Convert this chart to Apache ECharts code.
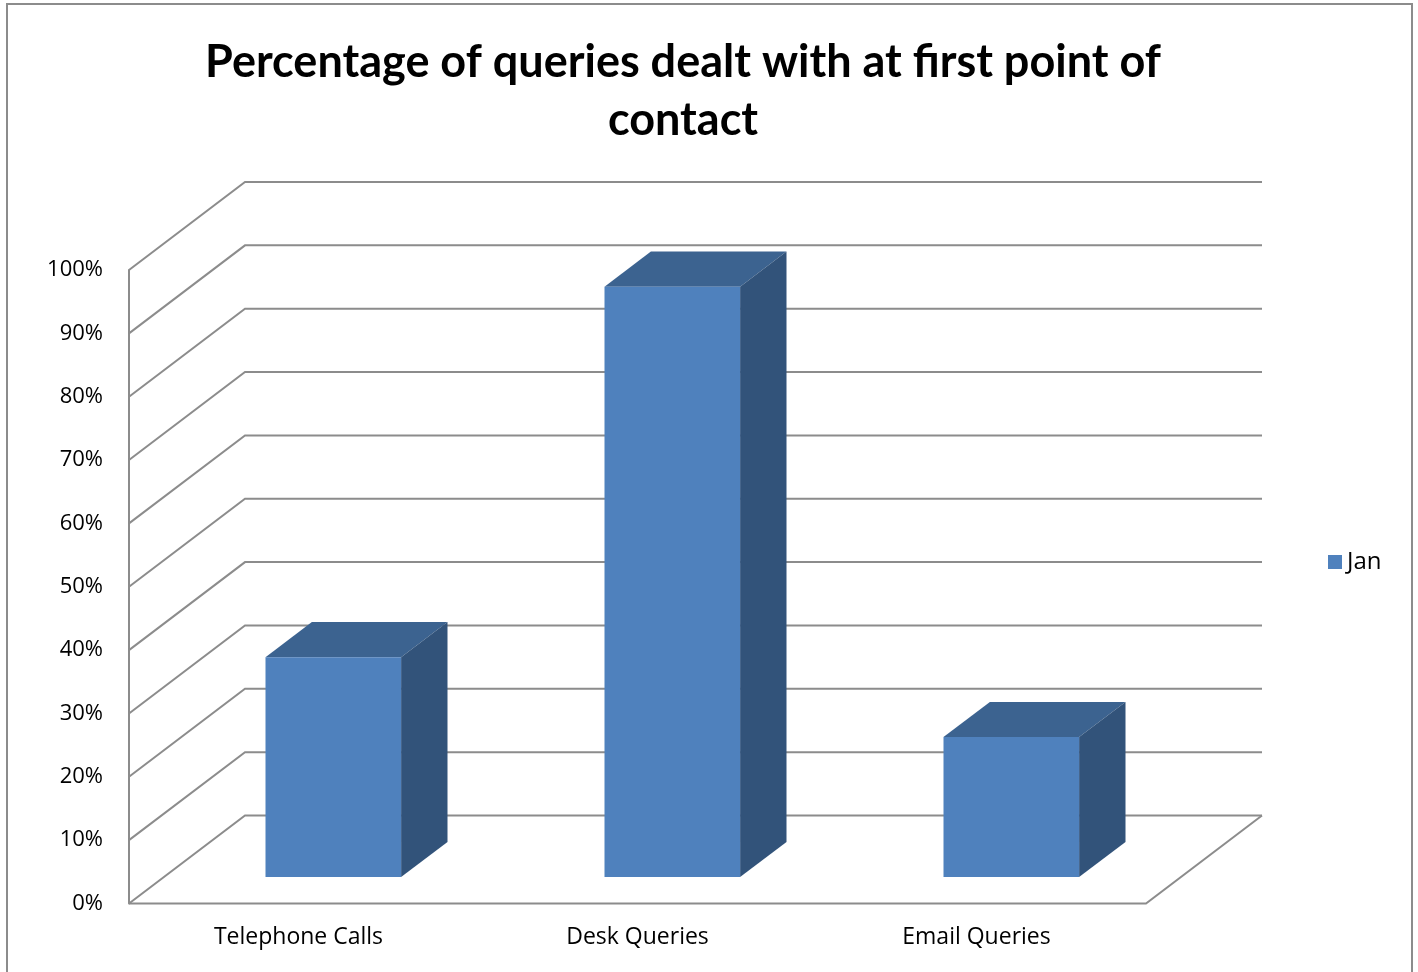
<!DOCTYPE html>
<html>
<head>
<meta charset="utf-8">
<script src="https://cdn.jsdelivr.net/npm/echarts@6/dist/echarts.min.js"></script>
<style>
html,body{margin:0;padding:0;background:#fff;}
#chart{width:1418px;height:972px;}
</style>
</head>
<body>
<div id="chart"></div>
<script>
const titleText = 'Percentage of queries dealt with at first point of\ncontact';
const categories = ['Telephone Calls', 'Desk Queries', 'Email Queries'];
const seriesName = 'Jan';
const janValues = [0.347, 0.932, 0.221];
const yTicks = [0, 0.1, 0.2, 0.3, 0.4, 0.5, 0.6, 0.7, 0.8, 0.9, 1.0];

// 3D look (style constants)
const DEPTH = { x: 116, y: -88 };
const BAR_FRONT = 0.3, BAR_DEPTH = 0.4, BAR_HALF = 0.2;
const WALL_COLOR = '#8c8c8c';
const FRONT_COLOR = '#4F81BD', TOP_COLOR = '#3C6390', SIDE_COLOR = '#32537A';

const chart = echarts.init(document.getElementById('chart'));

function wallItem(params, api) {
  const cs = params.coordSys;
  const v = api.value(0);
  const y = api.coord([0, v])[1];
  const x0 = cs.x, x1 = cs.x + cs.width;
  const pts = [[x0, y], [x0 + DEPTH.x, y + DEPTH.y], [x1 + DEPTH.x, y + DEPTH.y]];
  const children = [{
    type: 'polyline',
    shape: { points: pts },
    style: { stroke: WALL_COLOR, lineWidth: 2, fill: null }
  }];
  if (v === 0) {
    children.push({
      type: 'polyline',
      shape: { points: [[x0, y], [x1, y], [x1 + DEPTH.x, y + DEPTH.y]] },
      style: { stroke: WALL_COLOR, lineWidth: 2, fill: null }
    });
  }
  return { type: 'group', children: children };
}

function barItem(params, api) {
  const idx = api.value(0);
  const v = api.value(1);
  const top = api.coord([idx, v]);
  const base = api.coord([idx, 0]);
  const band = api.size([1, 0])[0];
  const hw = band * BAR_HALF;
  const fx = BAR_FRONT * DEPTH.x, fy = BAR_FRONT * DEPTH.y;
  const bx = BAR_DEPTH * DEPTH.x, by = BAR_DEPTH * DEPTH.y;
  const L = top[0] - hw + fx, R = top[0] + hw + fx;
  const T = top[1] + fy, B = base[1] + fy;
  return {
    type: 'group',
    children: [
      { type: 'polygon', shape: { points: [[L, T], [R, T], [R + bx, T + by], [L + bx, T + by]] },
        style: { fill: TOP_COLOR } },
      { type: 'polygon', shape: { points: [[R, T], [R + bx, T + by], [R + bx, B + by], [R, B]] },
        style: { fill: SIDE_COLOR } },
      { type: 'rect', shape: { x: L, y: T, width: R - L, height: B - T },
        style: { fill: FRONT_COLOR } }
    ]
  };
}

const option = {
  backgroundColor: '#fff',
  animation: false,
  title: {
    text: titleText,
    left: 678,
    top: 28,
    textAlign: 'center',
    textStyle: { fontFamily: 'Lato', fontWeight: 'bold', fontSize: 45, lineHeight: 58, color: '#000' }
  },
  graphic: [{
    type: 'rect',
    shape: { x: 7, y: 4, width: 1405, height: 1000 },
    style: { fill: null, stroke: '#8c8c8c', lineWidth: 2 },
    silent: true
  }],
  legend: {
    data: [{ name: seriesName, icon: 'rect' }],
    orient: 'vertical',
    left: 1323,
    top: 545,
    itemWidth: 14,
    itemHeight: 14,
    itemGap: 6,
    textStyle: { fontFamily: 'Open Sans', fontSize: 24, color: '#000' }
  },
  grid: { left: 129, right: 272, top: 270, bottom: 68.5 },
  xAxis: {
    type: 'category',
    data: categories,
    axisLine: { show: false },
    axisTick: { show: false },
    splitLine: { show: false },
    axisLabel: { fontFamily: 'Open Sans', fontSize: 23, color: '#000', margin: 22 }
  },
  yAxis: {
    type: 'value',
    min: 0,
    max: 1,
    interval: 0.1,
    axisLine: { show: true, lineStyle: { color: WALL_COLOR, width: 2 } },
    axisTick: { show: false },
    splitLine: { show: false },
    axisLabel: {
      fontFamily: 'Open Sans', fontSize: 22, color: '#000', margin: 26,
      lineHeight: 30, padding: [6, 0, 0, 0],
      formatter: function (v) { return Math.round(v * 100) + '%'; }
    }
  },
  series: [
    {
      type: 'custom',
      name: 'walls',
      renderItem: wallItem,
      data: yTicks.map(v => [v]),
      encode: { y: 0 },
      z: 1,
      silent: true
    },
    {
      type: 'custom',
      name: seriesName,
      renderItem: barItem,
      itemStyle: { color: FRONT_COLOR },
      data: janValues.map((v, i) => [i, v]),
      encode: { x: 0, y: 1 },
      z: 2
    }
  ]
};
chart.setOption(option);
</script>
</body>
</html>
